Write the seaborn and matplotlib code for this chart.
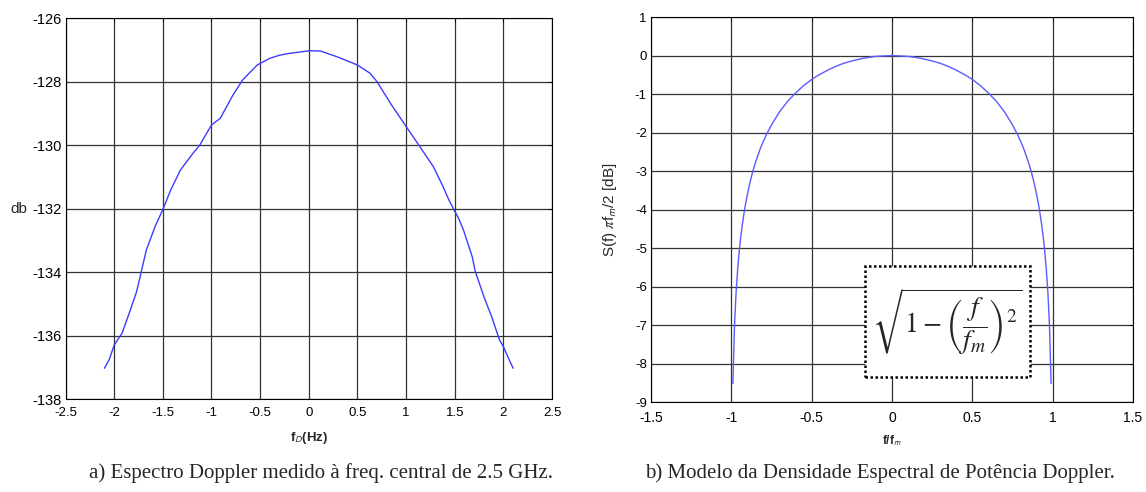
import numpy as np
import pandas as pd
import matplotlib
matplotlib.use("Agg")
import matplotlib.pyplot as plt
import seaborn as sns
from matplotlib.patches import Rectangle

# ---------------- data ----------------
# Panel a: measured Doppler spectrum
fd_hz = [-2.10, -2.05, -2.00, -1.92, -1.84, -1.77, -1.72, -1.67, -1.58, -1.50,
         -1.46, -1.42, -1.32, -1.19, -1.12, -1.00, -0.91, -0.78, -0.68, -0.53,
         -0.40, -0.30, -0.19, 0.01, 0.12, 0.29, 0.50, 0.63, 0.70, 0.84,
         0.99, 1.13, 1.28, 1.38, 1.44, 1.49, 1.54, 1.59, 1.68, 1.71,
         1.80, 1.88, 1.96, 2.00, 2.05, 2.10]
spec_db = [-137.03, -136.75, -136.30, -135.93, -135.25, -134.62, -133.97, -133.31, -132.57, -132.03,
           -131.73, -131.42, -130.79, -130.26, -130.00, -129.37, -129.16, -128.43, -127.95, -127.48,
           -127.27, -127.17, -127.11, -127.03, -127.04, -127.22, -127.48, -127.74, -128.00, -128.69,
           -129.37, -130.00, -130.68, -131.31, -131.73, -132.03, -132.31, -132.68, -133.52, -133.97,
           -134.78, -135.41, -136.14, -136.35, -136.70, -137.03]

# Panel b: Doppler power spectral density model
f_norm = [-0.99, -0.98, -0.97, -0.96, -0.95, -0.94, -0.93, -0.92, -0.91, -0.90,
          -0.89, -0.88, -0.87, -0.86, -0.85, -0.84, -0.82, -0.80, -0.78, -0.75,
          -0.70, -0.65, -0.60, -0.55, -0.50, -0.45, -0.40, -0.35, -0.30, -0.25,
          -0.20, -0.15, -0.10, 0.00, 0.10, 0.15, 0.20, 0.25, 0.30, 0.35,
          0.40, 0.45, 0.50, 0.55, 0.60, 0.65, 0.70, 0.75, 0.78, 0.80,
          0.82, 0.84, 0.85, 0.86, 0.87, 0.88, 0.89, 0.90, 0.91, 0.92,
          0.93, 0.94, 0.95, 0.96, 0.97, 0.98, 0.99]
psd_db = [-8.51, -7.01, -6.14, -5.53, -5.05, -4.67, -4.35, -4.07, -3.82, -3.61,
          -3.41, -3.23, -3.07, -2.92, -2.78, -2.66, -2.42, -2.22, -2.04, -1.80,
          -1.46, -1.19, -0.97, -0.78, -0.62, -0.49, -0.38, -0.28, -0.20, -0.14,
          -0.09, -0.05, -0.02, 0.00, -0.02, -0.05, -0.09, -0.14, -0.20, -0.28,
          -0.38, -0.49, -0.62, -0.78, -0.97, -1.19, -1.46, -1.80, -2.04, -2.22,
          -2.42, -2.66, -2.78, -2.92, -3.07, -3.23, -3.41, -3.61, -3.82, -4.07,
          -4.35, -4.67, -5.05, -5.53, -6.14, -7.01, -8.51]

xticks_a = [-2.5, -2, -1.5, -1, -0.5, 0, 0.5, 1, 1.5, 2, 2.5]
xticklabels_a = ["-2.5", "-2", "-1.5", "-1", "-0.5", "0", "0.5", "1", "1.5", "2", "2.5"]
yticks_a = [-138, -136, -134, -132, -130, -128, -126]
yticklabels_a = ["-138", "-136", "-134", "-132", "-130", "-128", "-126"]

xticks_b = [-1.5, -1, -0.5, 0, 0.5, 1, 1.5]
xticklabels_b = ["-1.5", "-1", "-0.5", "0", "0.5", "1", "1.5"]
yticks_b = [-9, -8, -7, -6, -5, -4, -3, -2, -1, 0, 1]
yticklabels_b = ["-9", "-8", "-7", "-6", "-5", "-4", "-3", "-2", "-1", "0", "1"]

caption_a = "a) Espectro Doppler medido à freq. central de 2.5 GHz."
caption_b = "b) Modelo da Densidade Espectral de Potência Doppler."

df_a = pd.DataFrame({"fd": fd_hz, "db": spec_db})
df_b = pd.DataFrame({"f": f_norm, "s": psd_db})

# ---------------- style ----------------
sns.set_style("white")
plt.rcParams["font.family"] = ["Liberation Sans", "DejaVu Sans"]
plt.rcParams["mathtext.fontset"] = "stix"

fig = plt.figure(figsize=(11.46, 4.92), dpi=100)
ax1 = fig.add_axes([0.0572, 0.189, 0.4245, 0.7744])
ax2 = fig.add_axes([0.568, 0.182, 0.4207, 0.7834])

grid_kw = dict(color="#333333", linewidth=0.9, linestyle="-")

for ax in (ax1, ax2):
    for sp in ax.spines.values():
        sp.set_color("black")
        sp.set_linewidth(0.8)
    ax.grid(True, **grid_kw)
    ax.tick_params(direction="in", length=3, width=0.6, top=True, right=True,
                   colors="black")
    ax.tick_params(axis="x", pad=6)
    ax.tick_params(axis="y", pad=3)

ax1.tick_params(axis="x", labelsize=9.5)
ax1.tick_params(axis="y", labelsize=10.5)
ax2.tick_params(axis="x", labelsize=10)
ax2.tick_params(axis="y", labelsize=9.5)

# ---- panel a ----
sns.lineplot(data=df_a, x="fd", y="db", ax=ax1, color="#3c3cff", linewidth=1.0, zorder=3)
ax1.set_xlim(-2.5, 2.5)
ax1.set_ylim(-138, -126)
ax1.set_xticks(xticks_a)
ax1.set_xticklabels(xticklabels_a)
ax1.set_yticks(yticks_a)
ax1.set_yticklabels(yticklabels_a)
ax1.set_xlabel(r"f$_{\mathsf{D}}$(Hz)", fontsize=9.5, fontweight="bold")
ax1.xaxis.set_label_coords(0.5, -0.102)
ax1.xaxis.label.set_va("center")
ax1.set_ylabel("db", fontsize=11, rotation=0, ha="right", va="center")
ax1.yaxis.set_label_coords(-0.079, 0.5)

# ---- panel b ----
sns.lineplot(data=df_b, x="f", y="s", ax=ax2, color="#5a5aff", linewidth=1.0, zorder=3)
ax2.set_xlim(-1.5, 1.5)
ax2.set_ylim(-9, 1)
ax2.set_xticks(xticks_b)
ax2.set_xticklabels(xticklabels_b)
ax2.set_yticks(yticks_b)
ax2.set_yticklabels(yticklabels_b)
ax2.set_xlabel(r"f/f$_{\mathsf{m}}$", fontsize=8.5, fontweight="bold")
ax2.xaxis.set_label_coords(0.5, -0.10)
ax2.xaxis.label.set_va("center")
ax2.set_ylabel(r"S(f) $\pi$f$_{\mathsf{m}}$/2 [dB]", fontsize=11)
ax2.yaxis.set_label_coords(-0.085, 0.5)
ax2.yaxis.label.set_va("center")

box = Rectangle((-0.166, -8.35), 1.022, 2.90, facecolor="white", edgecolor="black",
                linestyle=(0, (1, 1)), linewidth=1.8, zorder=4)
ax2.add_patch(box)
ax2.text(0.345, -6.92, r"$\sqrt{1-\left(\dfrac{f}{f_m}\right)^2}$", fontsize=20,
         ha="center", va="center", zorder=5)

# ---- captions ----
fig.text(0.280, 0.038, caption_a, ha="center", va="center", fontsize=15,
         family=["Liberation Serif", "DejaVu Serif"])
fig.text(0.768, 0.038, caption_b, ha="center", va="center", fontsize=15,
         family=["Liberation Serif", "DejaVu Serif"])

fig.savefig("out.png", dpi=100)
